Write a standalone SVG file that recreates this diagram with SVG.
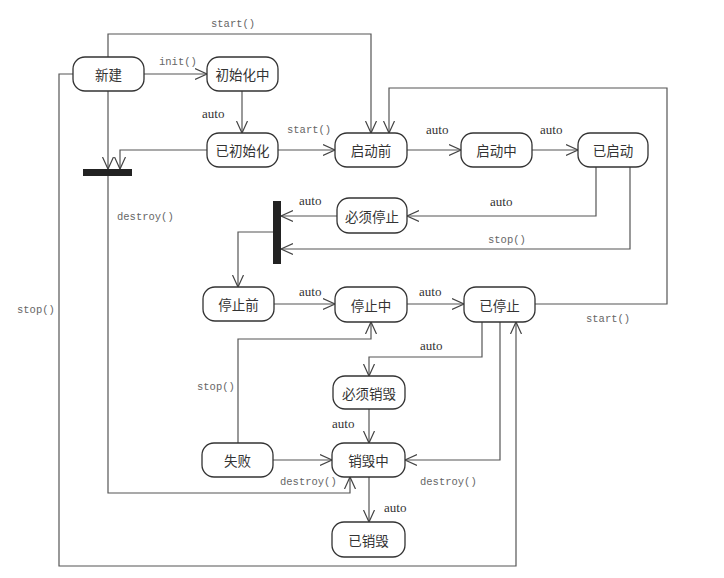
<svg xmlns="http://www.w3.org/2000/svg" width="724" height="578" viewBox="0 0 724 578">
<defs>
<marker id="arr" markerUnits="userSpaceOnUse" markerWidth="14" markerHeight="14" refX="12" refY="6" orient="auto" viewBox="0 0 14 12">
<path d="M0,0.5 L12,6 L0,11.5" fill="none" stroke="#444" stroke-width="1.2"/>
</marker>
<style>
.n rect{fill:#fff;stroke:#333;stroke-width:1.3}
.n text{font-family:"Noto Sans CJK SC","Noto Sans",sans-serif;font-size:13.5px;fill:#333;text-anchor:middle;dominant-baseline:central}
.c path{fill:none;stroke:#555;stroke-width:1.2;marker-end:url(#arr)}
.m{font-family:"Liberation Mono","DejaVu Sans Mono",monospace;font-size:10.5px;fill:#666}
.a{font-family:"Liberation Serif",serif;font-size:13px;fill:#333}
.bar{fill:#222}
</style>
</defs>
<rect width="724" height="578" fill="#fff"/>
<g class="c" id="connectors">
<path d="M144,74 H207"/>
<path d="M108,57 V34 H371 V133"/>
<path d="M242,91 V133"/>
<path d="M278,150 H335"/>
<path d="M207,150 H120 V169"/>
<path d="M108,91 V169"/>
<path d="M108,176 V493 H350 V477"/>
<path d="M73,74 H59 V566 H516 V322"/>
<path d="M407,150 H461"/>
<path d="M532,150 H578"/>
<path d="M596,167 V216 H407"/>
<path d="M630,167 V249 H281"/>
<path d="M337,216 H281"/>
<path d="M273,232 H238 V287"/>
<path d="M274,304 H335"/>
<path d="M407,304 H464"/>
<path d="M535,304 H667 V88 H389 V133"/>
<path d="M238,443 V339 H371 V322"/>
<path d="M482,322 V357 H369 V376"/>
<path d="M369,409 V443"/>
<path d="M273,460 H332"/>
<path d="M500,322 V460 H405"/>
<path d="M369,477 V522"/>
</g>
<g id="labels">
<text class="m" x="211" y="27">start()</text>
<text class="m" x="159" y="65">init()</text>
<text class="a" x="202" y="118">auto</text>
<text class="m" x="287" y="133">start()</text>
<text class="a" x="426" y="134">auto</text>
<text class="a" x="540" y="134">auto</text>
<text class="a" x="490" y="206">auto</text>
<text class="a" x="299" y="205">auto</text>
<text class="m" x="488" y="243">stop()</text>
<text class="m" x="117" y="220">destroy()</text>
<text class="m" x="17" y="313">stop()</text>
<text class="a" x="299" y="296">auto</text>
<text class="a" x="419" y="296">auto</text>
<text class="m" x="586" y="322">start()</text>
<text class="a" x="420" y="350">auto</text>
<text class="m" x="197" y="390">stop()</text>
<text class="a" x="332" y="428">auto</text>
<text class="m" x="280" y="485">destroy()</text>
<text class="m" x="420" y="485">destroy()</text>
<text class="a" x="384" y="512">auto</text>
</g>
<g id="fork1"><rect class="bar" x="83" y="169" width="49" height="7"/></g>
<g id="fork2"><rect class="bar" x="273" y="201" width="8" height="63"/></g>
<g class="n" id="n-new"><rect x="73" y="57" width="71" height="34" rx="12"/><text x="108.5" y="74">新建</text></g>
<g class="n" id="n-initing"><rect x="207" y="57" width="71" height="34" rx="12"/><text x="242.5" y="74">初始化中</text></g>
<g class="n" id="n-inited"><rect x="207" y="133" width="71" height="34" rx="12"/><text x="242.5" y="150">已初始化</text></g>
<g class="n" id="n-prestart"><rect x="335" y="133" width="72" height="34" rx="12"/><text x="371" y="150">启动前</text></g>
<g class="n" id="n-starting"><rect x="461" y="133" width="71" height="34" rx="12"/><text x="496.5" y="150">启动中</text></g>
<g class="n" id="n-started"><rect x="578" y="133" width="70" height="34" rx="12"/><text x="613" y="150">已启动</text></g>
<g class="n" id="n-muststop"><rect x="337" y="198" width="70" height="35" rx="12"/><text x="372" y="215.5">必须停止</text></g>
<g class="n" id="n-prestop"><rect x="203" y="287" width="71" height="34" rx="12"/><text x="238.5" y="304">停止前</text></g>
<g class="n" id="n-stopping"><rect x="335" y="287" width="72" height="35" rx="12"/><text x="371" y="304.5">停止中</text></g>
<g class="n" id="n-stopped"><rect x="464" y="287" width="71" height="35" rx="12"/><text x="499.5" y="304.5">已停止</text></g>
<g class="n" id="n-mustdestroy"><rect x="333" y="376" width="72" height="33" rx="12"/><text x="369" y="392.5">必须销毁</text></g>
<g class="n" id="n-failed"><rect x="202" y="443" width="71" height="34" rx="12"/><text x="237.5" y="460">失败</text></g>
<g class="n" id="n-destroying"><rect x="332" y="443" width="73" height="34" rx="12"/><text x="368.5" y="460">销毁中</text></g>
<g class="n" id="n-destroyed"><rect x="332" y="522" width="73" height="35" rx="12"/><text x="368.5" y="539.5">已销毁</text></g>
</svg>
